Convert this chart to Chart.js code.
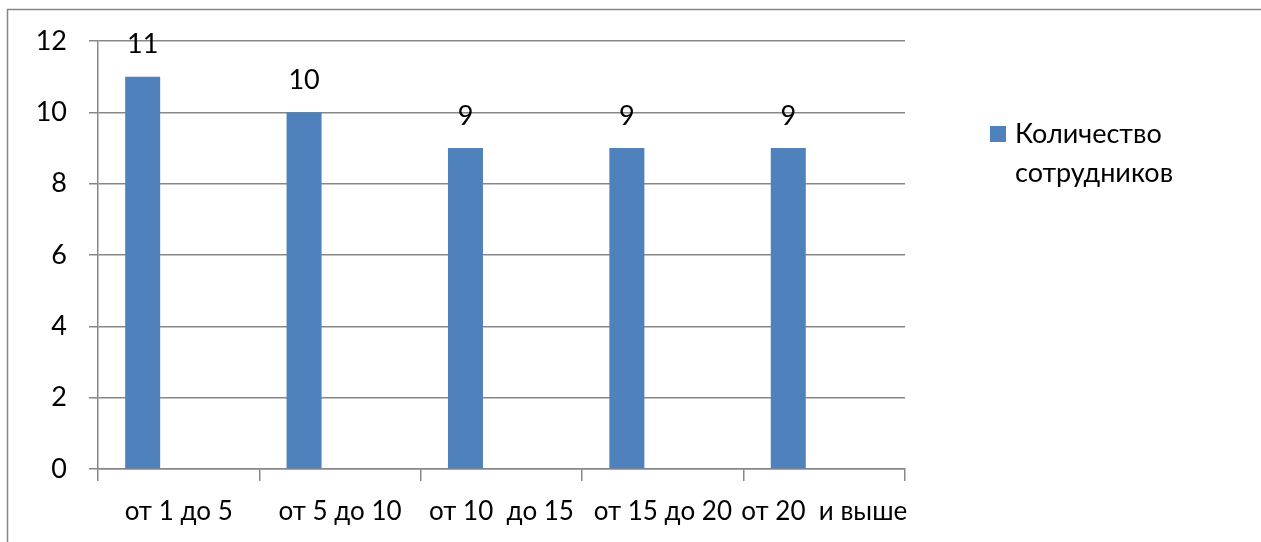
<!DOCTYPE html>
<html>
<head>
<meta charset="utf-8">
<script src="https://cdn.jsdelivr.net/npm/chart.js@4.4.1/dist/chart.umd.min.js"></script>
<style>
  html, body { margin: 0; padding: 0; background: #ffffff; }
  canvas { display: block; }
</style>
</head>
<body>
<canvas id="chart" width="1261" height="542"></canvas>
<script>
// Staff count by length of service
const categories = ['от 1 до 5', 'от 5 до 10', 'от 10  до 15', 'от 15 до 20', 'от 20  и выше'];
const seriesName = 'Количество сотрудников';
const employees = [11, 10, 9, 9, 9];
const yTicks = [0, 2, 4, 6, 8, 10, 12];

const FONT = 'Lato, "Liberation Sans", sans-serif';
const FONT_SIZE = 27;
const GRID = '#878787';
const BAR = '#4F81BD';

// Outer frame around the whole chart
const framePlugin = {
  id: 'frame',
  beforeDraw(chart) {
    const ctx = chart.ctx;
    ctx.save();
    ctx.fillStyle = '#ffffff';
    ctx.fillRect(0, 0, chart.width, chart.height);
    ctx.strokeStyle = GRID;
    ctx.lineWidth = 1.5;
    ctx.strokeRect(7.5, 9.5, chart.width + 20, chart.height + 20);
    ctx.restore();
  }
};

// Value above each bar
const valueLabels = {
  id: 'valueLabels',
  afterDatasetsDraw(chart) {
    const ctx = chart.ctx;
    const meta = chart.getDatasetMeta(0);
    ctx.save();
    ctx.font = FONT_SIZE + 'px ' + FONT;
    ctx.fillStyle = '#000000';
    ctx.textAlign = 'center';
    ctx.textBaseline = 'middle';
    meta.data.forEach((bar, i) => {
      ctx.fillText(String(chart.data.datasets[0].data[i]), bar.x, bar.y - 32);
    });
    ctx.restore();
  }
};

// Legend on the right, series name wrapped onto two lines
const sideLegend = {
  id: 'sideLegend',
  afterDraw(chart) {
    const ctx = chart.ctx;
    const ds = chart.data.datasets[0];
    const lines = ds.label.split(' ');
    const x = chart.chartArea.right + 85;
    const y = 134;
    ctx.save();
    ctx.fillStyle = ds.backgroundColor;
    ctx.fillRect(x, y - 8, 16, 16);
    ctx.font = FONT_SIZE + 'px ' + FONT;
    ctx.fillStyle = '#000000';
    ctx.textAlign = 'left';
    ctx.textBaseline = 'middle';
    lines.forEach((t, i) => ctx.fillText(t, x + 25, y + i * 39));
    ctx.restore();
  }
};

new Chart(document.getElementById('chart'), {
  type: 'bar',
  data: {
    labels: categories,
    datasets: [
      {
        label: seriesName,
        data: employees,
        backgroundColor: BAR,
        borderWidth: 0,
        categoryPercentage: 0.893,
        barPercentage: 0.486
      },
      {
        label: '',
        data: categories.map(() => null),
        backgroundColor: 'rgba(0,0,0,0)',
        categoryPercentage: 0.893,
        barPercentage: 0.486
      }
    ]
  },
  options: {
    responsive: false,
    devicePixelRatio: 1,
    animation: false,
    layout: { padding: { left: 0, right: 356, top: 41, bottom: 0 } },
    plugins: {
      legend: { display: false },
      tooltip: { enabled: false },
      title: { display: false }
    },
    scales: {
      x: {
        offset: true,
        grid: {
          offset: true,
          drawOnChartArea: false,
          drawTicks: true,
          tickLength: 12,
          color: GRID,
          lineWidth: 1.5
        },
        border: { display: true, color: GRID, width: 1.5 },
        ticks: {
          color: '#000000',
          font: { family: FONT, size: 26 },
          padding: 15,
          maxRotation: 0,
          autoSkip: false
        },
        afterFit(scale) { scale.height = 73; }
      },
      y: {
        min: 0,
        max: 12,
        afterBuildTicks(scale) { scale.ticks = yTicks.map(v => ({ value: v })); },
        grid: {
          color: GRID,
          lineWidth: 1.5,
          drawTicks: true,
          tickLength: 9
        },
        border: { display: true, color: GRID, width: 1.5 },
        ticks: {
          color: '#000000',
          font: { family: FONT, size: FONT_SIZE },
          padding: 22
        },
        afterFit(scale) { scale.width = 98; }
      }
    }
  },
  plugins: [framePlugin, valueLabels, sideLegend]
});
</script>
</body>
</html>
